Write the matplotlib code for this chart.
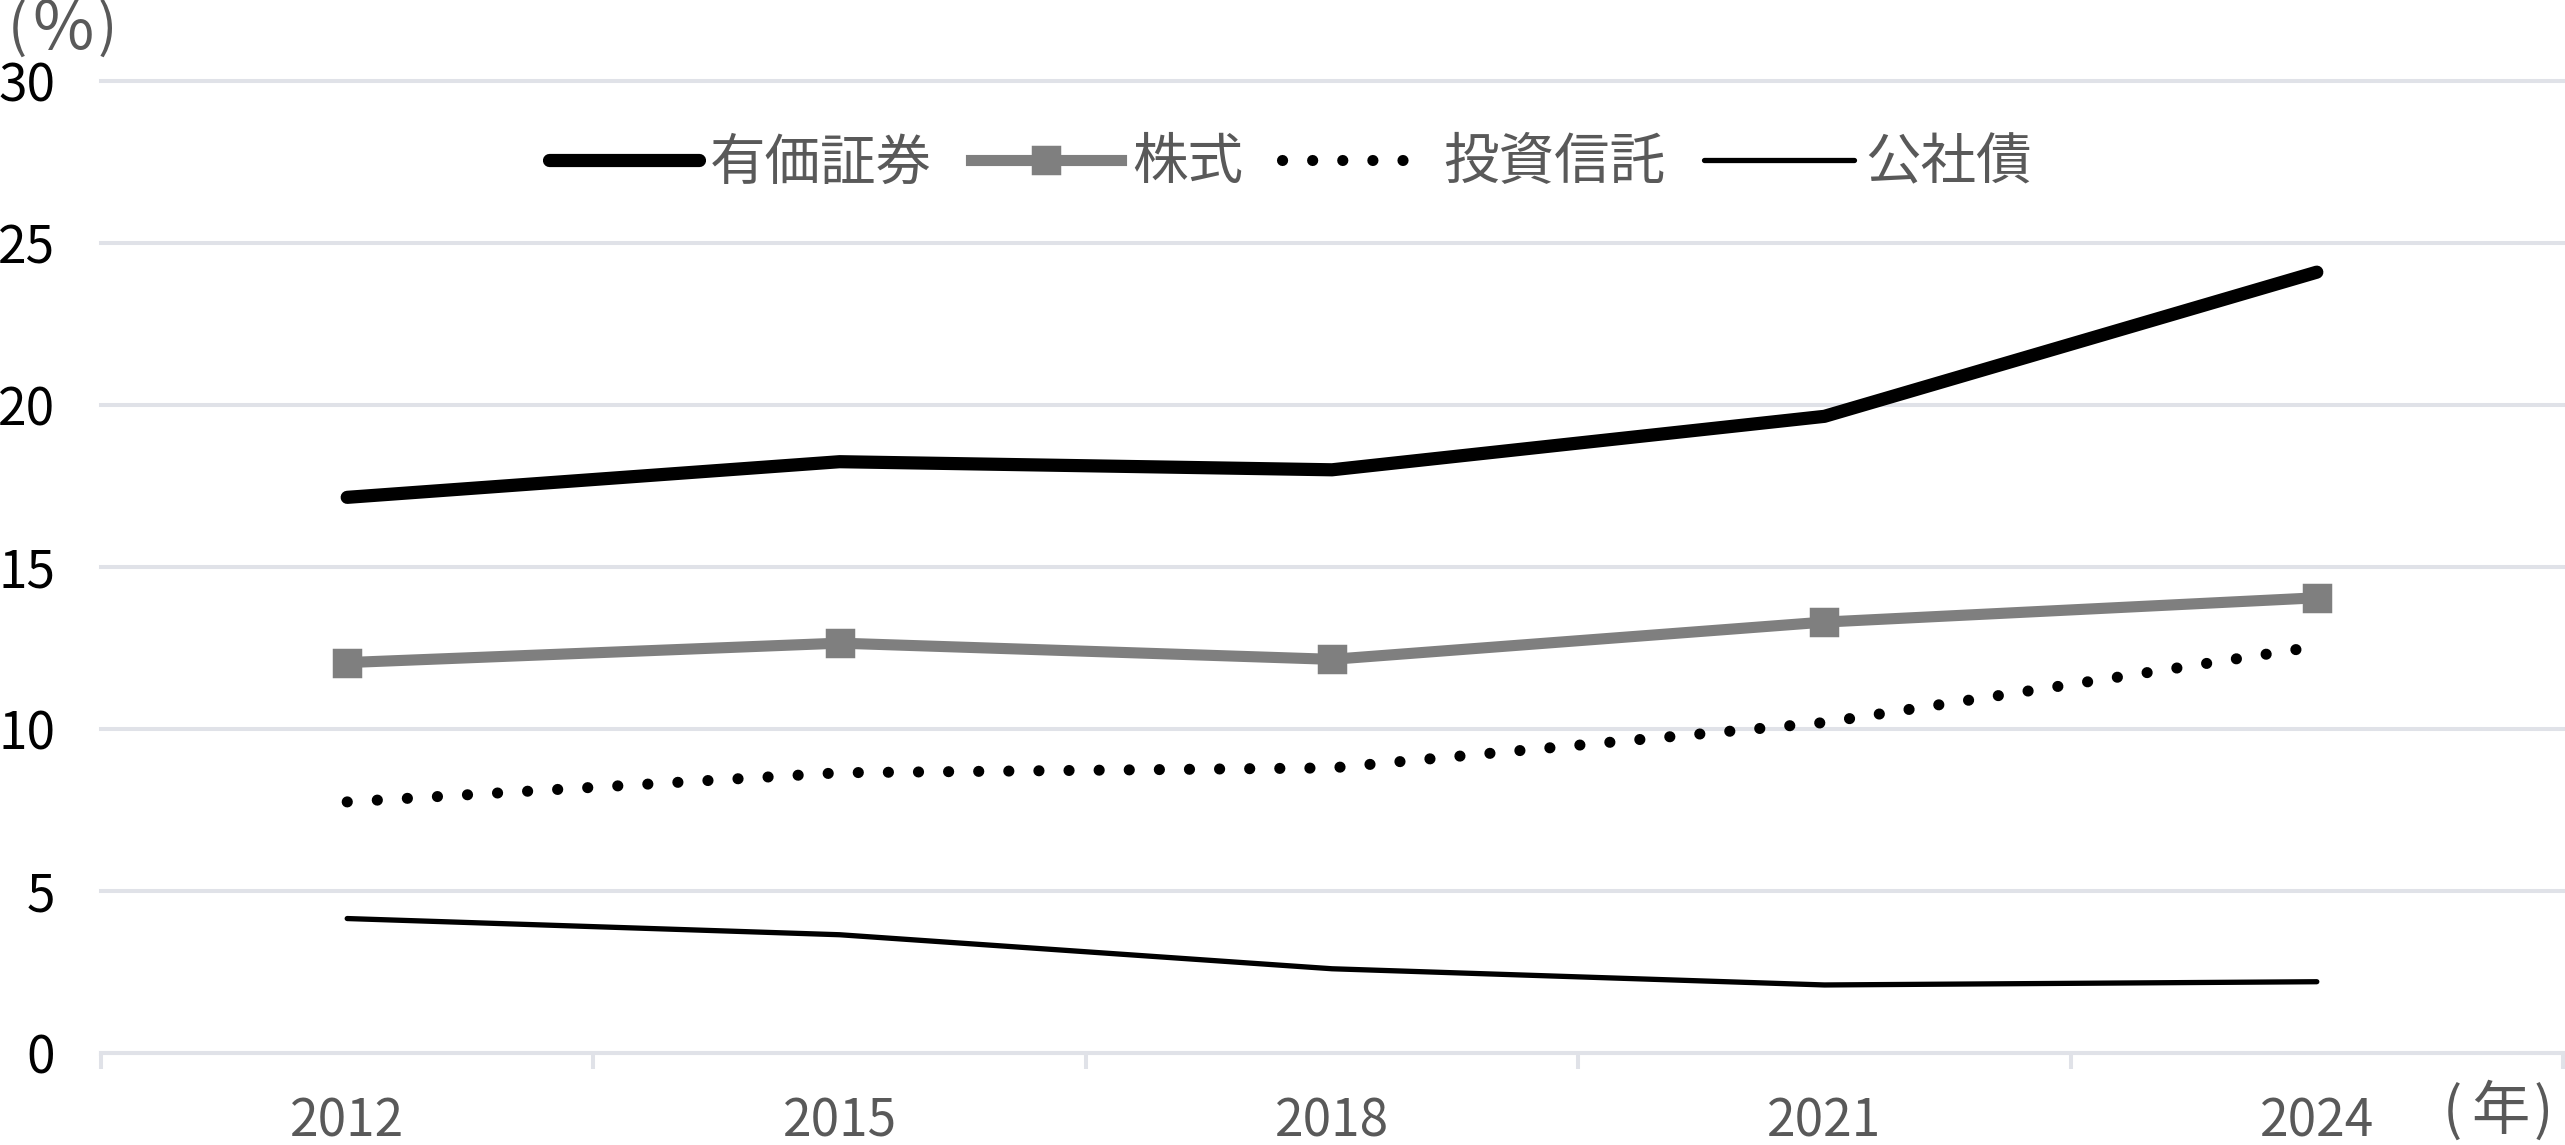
import numpy as np
import matplotlib
matplotlib.use('Agg')
import matplotlib.pyplot as plt

plt.rcParams['font.family'] = ['Noto Sans CJK JP', 'DejaVu Sans']

# data (%)
years = ['2012', '2015', '2018', '2021', '2024']
securities = [17.15, 18.25, 18.0, 19.65, 24.1]   # 有価証券
stocks = [12.05, 12.65, 12.15, 13.3, 14.05]      # 株式
trusts = [7.75, 8.65, 8.8, 10.2, 12.55]          # 投資信託
bonds = [4.15, 3.65, 2.6, 2.1, 2.2]              # 公社債
y_ticks = [0, 5, 10, 15, 20, 25, 30]

grid_col = '#e0e2e8'
text_gray = '#595959'
W, H = 2565, 1145

fig = plt.figure(figsize=(W / 100, H / 100), dpi=100)
ax = fig.add_axes([101 / W, 1 - 1053 / H, 2462 / W, 972 / H])

x = np.arange(len(years))
ax.plot(x, securities, color='black', lw=9.5, solid_capstyle='round',
        solid_joinstyle='round', label='有価証券', zorder=4)
ax.plot(x, stocks, color='#7f7f7f', lw=8, marker='s', ms=19, mew=2.5,
        mec='#7f7f7f', mfc='#7f7f7f', solid_joinstyle='round',
        label='株式', zorder=4)
ax.plot(x, trusts, color='black', lw=8, linestyle=(0, (0.01, 2.7)),
        dash_capstyle='round', label='投資信託', zorder=3)
ax.plot(x, bonds, color='black', lw=3.8, solid_capstyle='round',
        label='公社債', zorder=3)

ax.set_xlim(-0.5, len(years) - 0.5)
ax.set_ylim(0, 30)
ax.set_yticks(y_ticks)
ax.set_yticklabels([str(v) for v in y_ticks])
ax.tick_params(axis='y', length=0, pad=33, labelsize=37, labelcolor='black')

# category boundaries as major ticks, labels on minor ticks
ax.set_xticks(np.arange(-0.5, len(years), 1.0))
ax.set_xticklabels([])
ax.set_xticks(x, minor=True)
ax.set_xticklabels(years, minor=True)
ax.tick_params(axis='x', which='major', length=11.5, width=2.9, color=grid_col,
               direction='out')
ax.tick_params(axis='x', which='minor', length=0, pad=30, labelsize=37,
               labelcolor=text_gray)

ax.yaxis.grid(True, color=grid_col, lw=2.9)
for gl in ax.get_ygridlines():
    gl.set_clip_on(False)
ax.set_axisbelow(True)
for s in ['top', 'right', 'left']:
    ax.spines[s].set_visible(False)
ax.spines['bottom'].set_color(grid_col)
ax.spines['bottom'].set_linewidth(2.9)

leg = ax.legend(loc='center', bbox_to_anchor=(0.483, 0.915), ncol=4,
                frameon=False, fontsize=40, handlelength=2.7,
                handletextpad=0.2, columnspacing=0.7, borderpad=0)
for t in leg.get_texts():
    t.set_color(text_gray)

# unit labels, each glyph placed on its own to get the wide spacing
for txt, px, fs in [('(', 17, 41), ('%', 63, 48), (')', 107, 41)]:
    fig.text(px / W, 1 - 30 / H, txt, fontsize=fs, color=text_gray,
             ha='center', va='center')
for txt, px, fs in [('(', 2452, 41), ('年', 2500, 42), (')', 2543, 41)]:
    fig.text(px / W, 1 - 1113 / H, txt, fontsize=fs, color=text_gray,
             ha='center', va='center')

fig.savefig('out.png', dpi=100)
